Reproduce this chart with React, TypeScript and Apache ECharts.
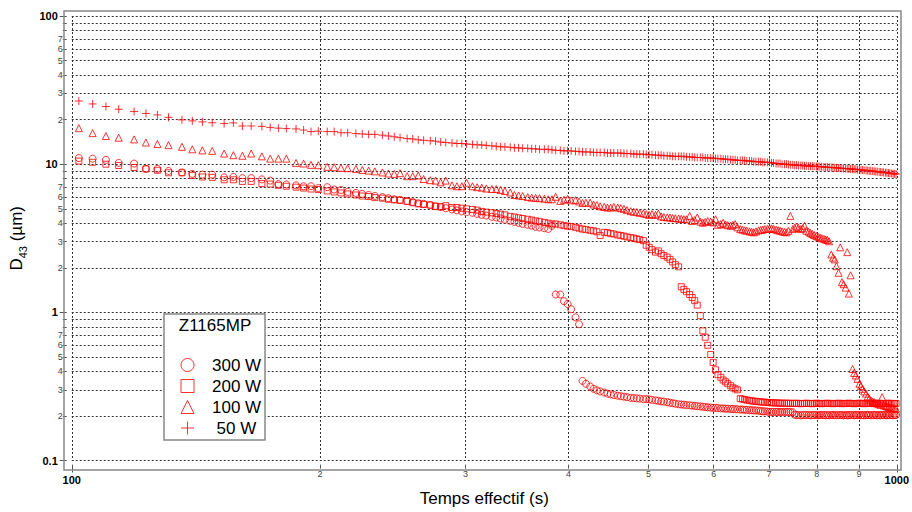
import React, { useEffect, useRef } from 'react';
import * as echarts from 'echarts';

// Sampling times (s)
const times = [
  102, 106, 110, 114, 119, 123, 127, 131, 136, 140, 144, 148, 153, 157, 161, 165,
  170, 174, 178, 182, 187, 191, 195, 199, 204, 208, 212, 216, 221, 225, 229, 233,
  238, 242, 246, 250, 255, 259, 263, 267, 272, 276, 280, 284, 289, 293, 297, 301,
  306, 310, 314, 318, 323, 327, 331, 335, 340, 344, 348, 352, 357, 361, 365, 369,
  374, 378, 382, 386, 391, 395, 399, 403, 408, 412, 416, 420, 425, 429, 433, 437,
  442, 446, 450, 454, 459, 463, 467, 471, 476, 480, 484, 488, 493, 497, 501, 505,
  510, 514, 518, 522, 527, 531, 535, 539, 544, 548, 552, 556, 561, 565, 569, 573,
  578, 582, 586, 590, 595, 599, 603, 607, 612, 616, 620, 624, 629, 633, 637, 641,
  646, 650, 654, 658, 663, 667, 671, 675, 680, 684, 688, 692, 697, 701, 705, 709,
  714, 718, 722, 726, 731, 735, 739, 743, 748, 752, 756, 760, 765, 769, 773, 777,
  782, 786, 790, 794, 799, 803, 807, 811, 816, 820, 824, 828, 833, 837, 841, 845,
  850, 854, 858, 862, 867, 871, 875, 879, 884, 888, 892, 896, 901, 905, 909, 913,
  918, 922, 926, 930, 935, 939, 943, 947, 952, 956, 960, 964, 969, 973, 977, 981,
  986, 990, 994, 998,
];

// 300 W (circles)
const d300 = [
  11.0, 10.9, 10.7, 10.2, 10.1, 9.3, 9.3, 9.0, 8.8, 8.6,
  8.5, 8.5, 8.15, 8.2, 8.05, 8.05, 7.9, 7.75, 7.35, 7.3,
  7.2, 7.1, 7.1, 6.9, 7.0, 6.75, 6.7, 6.5, 6.4, 6.3,
  6.2, 6.1, 6.0, 5.9, 5.8, 5.75, 5.65, 5.55, 5.45, 5.4,
  5.3, 5.2, 5.15, 5.05, 4.95, 4.88, 4.8, 4.75, 4.7, 4.62,
  4.55, 4.5, 4.42, 4.37, 4.3, 4.22, 4.15, 4.08, 4.02, 3.95,
  3.9, 3.85, 3.78, 3.74, 3.7, 3.66, 3.84, 1.32, 1.32, 1.19,
  1.14, 1.05, 0.926, 0.832, 0.345, 0.33, 0.316, 0.305, 0.298, 0.293,
  0.288, 0.283, 0.28, 0.277, 0.274, 0.272, 0.27, 0.268, 0.265, 0.264,
  0.263, 0.262, 0.26, 0.26, 0.259, 0.257, 0.255, 0.253, 0.251, 0.25,
  0.248, 0.246, 0.244, 0.242, 0.24, 0.239, 0.238, 0.237, 0.236, 0.235,
  0.234, 0.233, 0.232, 0.231, 0.23, 0.229, 0.228, 0.227, 0.227, 0.226,
  0.225, 0.225, 0.224, 0.224, 0.223, 0.223, 0.222, 0.222, 0.221, 0.221,
  0.22, 0.22, 0.219, 0.219, 0.218, 0.218, 0.217, 0.216, 0.215, 0.215,
  0.214, 0.213, 0.213, 0.213, 0.213, 0.213, 0.213, 0.213, 0.213, 0.213,
  0.213, 0.213, 0.212, 0.204, 0.203, 0.203, 0.202, 0.203, 0.203, 0.203,
  0.203, 0.202, 0.203, 0.203, 0.203, 0.202, 0.203, 0.203, 0.203, 0.202,
  0.203, 0.202, 0.203, 0.203, 0.203, 0.202, 0.203, 0.203, 0.203, 0.202,
  0.203, 0.202, 0.203, 0.203, 0.203, 0.202, 0.203, 0.203, 0.203, 0.202,
  0.203, 0.202, 0.203, 0.203, 0.203, 0.202, 0.203, 0.203, 0.203, 0.202,
  0.203, 0.202, 0.203, 0.203, 0.203, 0.202, 0.203, 0.203, 0.203, 0.202,
  0.203, 0.203,
];

// 200 W (squares)
const d200 = [
  10.5, 10.3, 10.0, 9.8, 9.5, 9.3, 9.1, 8.75, 8.75, 8.4,
  8.2, 8.15, 7.85, 7.85, 7.65, 7.65, 7.4, 7.35, 7.2, 7.1,
  7.0, 6.9, 6.8, 6.75, 6.6, 6.5, 6.4, 6.3, 6.2, 6.1,
  6.05, 5.95, 5.9, 5.8, 5.75, 5.7, 5.6, 5.5, 5.4, 5.35,
  5.3, 5.2, 5.15, 5.25, 5.1, 5.1, 5.05, 5.0, 4.95, 4.9,
  4.8, 4.75, 4.7, 4.65, 4.6, 4.55, 4.45, 4.4, 4.35, 4.3,
  4.25, 4.2, 4.15, 4.1, 4.05, 4.0, 3.95, 3.95, 3.9, 3.85,
  3.82, 3.8, 3.75, 3.7, 3.65, 3.62, 3.58, 3.55, 3.5, 3.3,
  3.47, 3.45, 3.4, 3.38, 3.33, 3.3, 3.27, 3.23, 3.2, 3.17,
  3.13, 3.1, 3.05, 2.84, 2.75, 2.65, 2.55, 2.6, 2.49, 2.42,
  2.36, 2.28, 2.19, 2.1, 2.03, 1.49, 1.43, 1.38, 1.32, 1.26,
  1.2, 1.12, 0.95, 0.75, 0.68, 0.6, 0.52, 0.46, 0.41, 0.38,
  0.365, 0.35, 0.34, 0.33, 0.32, 0.31, 0.305, 0.3, 0.262, 0.26,
  0.258, 0.256, 0.255, 0.253, 0.252, 0.251, 0.25, 0.249, 0.248, 0.248,
  0.247, 0.246, 0.246, 0.245, 0.245, 0.245, 0.244, 0.244, 0.244, 0.244,
  0.243, 0.244, 0.243, 0.243, 0.244, 0.243, 0.242, 0.243, 0.243, 0.244,
  0.243, 0.243, 0.242, 0.243, 0.244, 0.243, 0.243, 0.242, 0.243, 0.243,
  0.244, 0.243, 0.243, 0.242, 0.243, 0.243, 0.244, 0.243, 0.242, 0.243,
  0.243, 0.243, 0.244, 0.243, 0.243, 0.242, 0.243, 0.243, 0.244, 0.243,
  0.243, 0.242, 0.243, 0.243, 0.244, 0.243, 0.243, 0.242, 0.243, 0.243,
  0.244, 0.243, 0.243, 0.242, 0.243, 0.243, 0.244, 0.243, 0.243, 0.242,
  0.243, 0.243,
];

// 100 W (triangles)
const d100 = [
  17.5, 16.2, 15.5, 15.1, 14.7, 14.0, 13.7, 13.45, 13.1, 12.6,
  12.4, 12.3, 11.8, 11.5, 11.4, 11.8, 11.3, 10.9, 10.9, 10.9,
  10.2, 10.1, 9.9, 9.85, 9.6, 9.55, 9.45, 9.4, 9.3, 9.15,
  9.05, 8.95, 8.8, 8.65, 8.6, 8.7, 8.3, 8.3, 8.4, 7.95,
  7.8, 7.75, 7.55, 7.75, 7.2, 7.1, 7.1, 7.5, 7.1, 7.0,
  6.95, 6.85, 6.8, 6.8, 6.7, 6.6, 6.45, 6.2, 6.15, 6.1,
  6.0, 5.95, 5.93, 5.9, 5.85, 5.8, 5.8, 6.03, 5.65, 5.75,
  5.83, 5.7, 5.72, 5.6, 5.47, 5.5, 5.5, 5.35, 5.3, 5.2,
  5.15, 5.1, 5.1, 5.15, 5.1, 5.05, 5.0, 4.9, 4.82, 4.78,
  4.75, 4.7, 4.66, 4.6, 4.55, 4.6, 4.55, 4.64, 4.45, 4.4,
  4.38, 4.37, 4.33, 4.32, 4.3, 4.28, 4.26, 4.25, 4.48, 4.14,
  4.2, 4.37, 4.1, 4.03, 4.08, 4.14, 4.1, 4.05, 4.25, 3.9,
  3.95, 4.03, 3.92, 3.88, 3.84, 3.9, 3.94, 3.75, 3.65, 3.62,
  3.58, 3.56, 3.52, 3.5, 3.47, 3.52, 3.58, 3.6, 3.62, 3.65,
  3.66, 3.68, 3.69, 3.66, 3.62, 3.58, 3.56, 3.52, 3.49, 3.47,
  3.55, 4.48, 3.65, 3.72, 3.79, 3.72, 3.65, 3.7, 3.84, 3.56,
  3.5, 3.44, 3.38, 3.33, 3.28, 3.24, 3.2, 3.17, 3.14, 3.1,
  3.08, 3.02, 2.46, 2.34, 2.28, 2.05, 1.85, 2.75, 1.6, 1.55,
  1.47, 2.55, 1.34, 1.78, 0.415, 0.39, 0.375, 0.356, 0.33, 0.318,
  0.305, 0.293, 0.283, 0.27, 0.262, 0.255, 0.25, 0.248, 0.245, 0.243,
  0.24, 0.238, 0.268, 0.236, 0.234, 0.232, 0.23, 0.228, 0.227, 0.226,
  0.225, 0.224,
];

// 50 W (plus)
const d50 = [
  26.7, 25.5, 24.5, 23.5, 22.7, 22.0, 21.5, 20.7, 19.9, 19.6,
  19.3, 19.05, 18.8, 19.0, 18.1, 18.1, 18.0, 17.7, 17.5, 17.4,
  17.3, 17.0, 16.6, 16.7, 16.6, 16.6, 16.3, 16.3, 16.1, 16.0,
  15.9, 15.9, 15.7, 15.5, 15.3, 15.1, 14.9, 14.8, 14.6, 14.5,
  14.4, 14.3, 14.1, 14.0, 13.9, 13.8, 13.8, 13.7, 13.6, 13.5,
  13.5, 13.4, 13.3, 13.2, 13.1, 13.1, 13.0, 12.9, 12.9, 12.8,
  12.8, 12.7, 12.7, 12.6, 12.6, 12.6, 12.5, 12.4, 12.4, 12.3,
  12.3, 12.3, 12.2, 12.2, 12.1, 12.1, 12.1, 12.0, 12.0, 12.0,
  12.0, 11.9, 11.9, 11.9, 11.9, 11.9, 11.8, 11.8, 11.8, 11.7,
  11.7, 11.7, 11.7, 11.6, 11.6, 11.6, 11.5, 11.5, 11.5, 11.4,
  11.4, 11.4, 11.3, 11.3, 11.3, 11.3, 11.3, 11.2, 11.2, 11.2,
  11.1, 11.1, 11.1, 11.1, 11.0, 11.0, 11.0, 11.0, 10.9, 10.9,
  10.9, 10.8, 10.8, 10.8, 10.7, 10.7, 10.7, 10.6, 10.6, 10.6,
  10.6, 10.5, 10.5, 10.5, 10.4, 10.4, 10.4, 10.4, 10.3, 10.3,
  10.3, 10.3, 10.2, 10.2, 10.1, 10.1, 10.1, 10.0, 10.0, 10.0,
  9.95, 9.9, 9.9, 9.85, 9.85, 9.8, 9.8, 9.78, 9.75, 9.75,
  9.72, 9.7, 9.7, 9.68, 9.66, 9.65, 9.63, 9.6, 9.58, 9.56,
  9.55, 9.53, 9.5, 9.48, 9.46, 9.45, 9.43, 9.4, 9.38, 9.36,
  9.35, 9.33, 9.3, 9.28, 9.26, 9.25, 9.23, 9.2, 9.18, 9.16,
  9.13, 9.1, 9.08, 9.05, 9.03, 9.0, 8.98, 8.95, 8.92, 8.9,
  8.87, 8.85, 8.82, 8.8, 8.77, 8.75, 8.72, 8.69, 8.66, 8.63,
  8.6, 8.58,
];

const seriesNames = ['300 W', '200 W', '100 W', '50 W'];
const legendTitle = 'Z1165MP';
const xTitle = 'Temps effectif (s)';

// Tick values
const xMajor = [100, 1000];
const xMinor = [200, 300, 400, 500, 600, 700, 800, 900];
const yMajor = [0.1, 1, 10, 100];
const yMinor = [
  0.2, 0.3, 0.4, 0.5, 0.6, 0.7, 0.8, 0.9,
  2, 3, 4, 5, 6, 7, 8, 9,
  20, 30, 40, 50, 60, 70, 80, 90,
];
const yMinorLabelled = [
  0.2, 0.3, 0.4, 0.5, 0.6, 0.7,
  2, 3, 4, 5, 6, 7,
  20, 30, 40, 50, 60, 70,
];

const FONT = 'Arial, "Liberation Sans", sans-serif';
const RED = '#ff0000';

function isMajor(v: number, majors: number[]) {
  return majors.find((m) => Math.abs(v - m) / m < 1e-6);
}
function leading(v: number) {
  const p = Math.pow(10, Math.floor(Math.log10(v) + 1e-9));
  return Math.round(v / p);
}
function fmt(v: number, majors: number[]) {
  const m = isMajor(v, majors);
  if (m !== undefined) return '{maj|' + String(m) + '}';
  return '{min|' + leading(v) + '}';
}

export default function App() {
  const ref = useRef<HTMLDivElement>(null);
  useEffect(() => {
    if (!ref.current) return;
    const chart = echarts.init(ref.current, undefined, { renderer: 'svg' });
    const gridLine = { show: true, lineStyle: { color: '#333', type: [2, 2] as any, width: 1 } };
    const seriesData = [d300, d200, d100, d50];
    const symbols = ['circle', 'rect', 'triangle', 'path://M0 5L10 5M5 0L5 10'];
    const sizes = [7, 6, 7, 8];
    const option: any = {
      animation: false,
      backgroundColor: '#fff',
      grid: { left: 69, right: 13, top: 16, bottom: 46, containLabel: false },
      xAxis: [
        {
          type: 'log', logBase: 10, min: 100, max: 1000, position: 'bottom', offset: 4,
          name: xTitle, nameLocation: 'middle', nameGap: 22,
          nameTextStyle: { fontSize: 17, fontFamily: FONT, color: '#000' },
          axisLine: { show: false },
          axisTick: { show: true, customValues: xMajor, length: 8, lineStyle: { color: '#555', width: 1 } },
          splitLine: gridLine,
          axisLabel: {
            show: true, customValues: [...xMajor, ...xMinor], margin: 4,
            formatter: (v: number) => fmt(v, xMajor),
            rich: {
              maj: { fontSize: 11, fontWeight: 'bold', color: '#000', fontFamily: FONT, lineHeight: 13, padding: [9, 0, 0, 0] },
              min: { fontSize: 9, color: '#444', fontFamily: FONT, lineHeight: 11 },
            },
          },
        },
        {
          type: 'log', logBase: 10, min: 100, max: 1000, position: 'bottom', offset: 4,
          axisLine: { show: false },
          axisTick: { show: true, customValues: xMinor, length: 4, lineStyle: { color: '#555', width: 1 } },
          splitLine: gridLine,
          axisLabel: { show: false },
        },
      ],
      yAxis: [
        {
          type: 'log', logBase: 10, min: 0.1, max: 100, position: 'left', offset: 5,
          name: '{a|D}{s|43}{a| (µm)}', nameLocation: 'middle', nameGap: 27, nameRotate: 90,
          nameTextStyle: {
            color: '#000', fontFamily: FONT,
            rich: {
              a: { fontSize: 17, fontFamily: FONT, color: '#000', lineHeight: 24 },
              s: { fontSize: 11, fontFamily: FONT, color: '#000', lineHeight: 12, verticalAlign: 'bottom' },
            },
          },
          axisLine: { show: false },
          axisTick: { show: true, customValues: yMajor, length: 7, lineStyle: { color: '#555', width: 1 } },
          splitLine: gridLine,
          axisLabel: {
            show: true, customValues: [...yMajor, ...yMinorLabelled], margin: 4,
            formatter: (v: number) => fmt(v, yMajor),
            rich: {
              maj: { fontSize: 11, fontWeight: 'bold', color: '#000', fontFamily: FONT, padding: [0, 5, 0, 0] },
              min: { fontSize: 9, color: '#444', fontFamily: FONT },
            },
          },
        },
        {
          type: 'log', logBase: 10, min: 0.1, max: 100, position: 'left', offset: 5,
          axisLine: { show: false },
          axisTick: { show: true, customValues: yMinor, length: 4, lineStyle: { color: '#555', width: 1 } },
          splitLine: gridLine,
          axisLabel: { show: false },
        },
      ],
      legend: {
        orient: 'vertical', left: 180.5, top: 356.5, padding: 0,
        itemWidth: 13, itemHeight: 13, itemGap: 4, selectedMode: false,
        data: seriesNames,
        itemStyle: { borderWidth: 1 },
        formatter: (name: string) => (name === '50 W' ? '{b|' + name + '}' : '{a|' + name + '}'),
        textStyle: {
          fontSize: 17, fontFamily: FONT, color: '#000',
          rich: {
            a: { fontSize: 17, fontFamily: FONT, color: '#000', padding: [0, 0, 0, 13] },
            b: { fontSize: 17, fontFamily: FONT, color: '#000', padding: [0, 0, 0, 17.5] },
          },
        },
        z: 6,
      },
      graphic: [
        {
          type: 'rect', z: 1, silent: true,
          shape: { x: 64, y: 11, width: 837, height: 459 },
          style: { fill: 'none', stroke: '#888', lineWidth: 1.5 },
        },
        {
          type: 'rect', z: 5, silent: true,
          shape: { x: 164, y: 314, width: 101, height: 126 },
          style: { fill: '#fff', stroke: '#888', lineWidth: 1.5 },
        },
        {
          type: 'text', z: 6, silent: true, x: 215, y: 325,
          style: { text: legendTitle, fontSize: 17, fontFamily: FONT, fill: '#000', align: 'center', verticalAlign: 'middle' },
        },
      ],
      series: seriesNames.map((name, k) => ({
        name,
        type: 'scatter',
        xAxisIndex: 0,
        yAxisIndex: 0,
        symbol: symbols[k],
        symbolSize: sizes[k],
        itemStyle: { color: 'rgba(0,0,0,0)', borderColor: RED, borderWidth: 1 },
        emphasis: { disabled: true },
        data: times.map((t, i) => [t, seriesData[k][i]]),
        z: 2,
      })),
    };
    chart.setOption(option);
    return () => chart.dispose();
  }, []);
  return (
    <div
      ref={ref}
      style={{ position: 'absolute', left: 0, top: 0, width: 912, height: 512, background: '#fff' }}
    />
  );
}
